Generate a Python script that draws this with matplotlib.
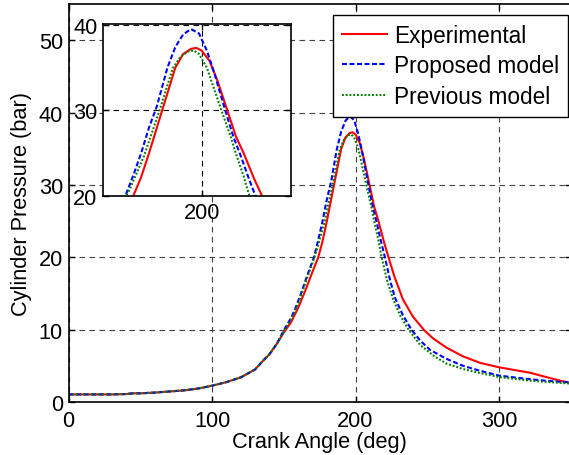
import numpy as np
import matplotlib
matplotlib.use('Agg')
import matplotlib.pyplot as plt

plt.rcParams['font.family'] = ['Liberation Sans', 'DejaVu Sans']
plt.rcParams['font.size'] = 15.7

# compression part, the three curves overlap here
angle_low = [0, 10, 20, 30, 40, 45, 50, 60, 70, 80, 90, 100, 110, 120, 130, 136, 140, 145]
p_low = [1.05, 1.05, 1.05, 1.05, 1.1, 1.2, 1.2, 1.3, 1.45, 1.6, 1.85, 2.25, 2.75, 3.4, 4.5, 5.8, 6.6, 8.0]

# combustion / expansion part
angle_exp = [150, 155, 160, 165, 170, 174, 177, 180, 185, 190, 193, 196, 198, 200, 203, 206, 210,
             213, 216, 220, 223, 227, 233, 240, 248, 254, 263.5, 275, 287, 300, 310, 321.5, 330,
             342.5, 350]
p_exp = [9.6, 11.0, 13.0, 15.4, 18.0, 20.0, 22.2, 25.0, 30.0, 35.0, 36.6, 37.2, 37.3, 37.0, 35.8,
         33.5, 29.8, 27.0, 25.0, 22.0, 20.0, 17.4, 14.2, 11.8, 9.9, 8.8, 7.5, 6.3, 5.4, 4.8, 4.45,
         4.05, 3.6, 2.95, 2.65]

angle_new = [150, 155, 158, 162, 166, 171, 174, 177, 180, 183, 187, 190, 193, 196, 199, 202, 205,
             209, 212, 215, 218, 220.5, 224, 227.5, 233, 239, 245, 252, 263.5, 275, 287, 300,
             321.5, 335, 350]
p_new = [9.9, 11.6, 12.9, 15.0, 17.3, 20.0, 22.4, 25.0, 28.0, 30.5, 35.0, 37.4, 38.9, 39.5, 39.0,
         37.0, 34.2, 30.0, 27.0, 24.6, 22.0, 20.0, 16.9, 14.4, 12.0, 10.0, 8.5, 7.2, 5.95, 5.0,
         4.3, 3.65, 3.15, 2.9, 2.7]

angle_old = [150, 155, 158, 162, 166, 170, 173, 178, 181, 184, 189, 192, 195, 197, 199, 202, 205,
             208, 211, 213, 216, 218, 222, 226, 231, 237, 245, 255, 263.5, 275, 287, 300, 321.5,
             335, 350]
p_old = [9.7, 11.4, 12.6, 14.7, 17.0, 19.2, 21.0, 24.6, 27.3, 30.0, 34.9, 36.3, 36.9, 37.0, 36.6,
         35.0, 32.3, 29.6, 27.0, 25.0, 22.3, 20.2, 16.8, 14.3, 12.0, 10.0, 7.9, 6.3, 5.3, 4.55,
         4.0, 3.45, 2.95, 2.75, 2.55]

x_exp = angle_low + angle_exp
y_exp = p_low + p_exp
x_new = angle_low + angle_new
y_new = p_low + p_new
x_old = angle_low + angle_old
y_old = p_low + p_old

dash_new = (0, (2.4, 1.2))
dot_old = (0, (0.9, 0.9))

W, H = 569, 456
fig = plt.figure(figsize=(W / 100, H / 100), dpi=100)
ax = fig.add_axes([68.5 / W, 53 / H, 502.3 / W, 397.7 / H])

ax.plot(x_exp, y_exp, color='r', lw=1.5, label='Experimental')
ax.plot(x_new, y_new, color='b', lw=1.5, ls=dash_new, label='Proposed model')
ax.plot(x_old, y_old, color='g', lw=1.5, ls=dot_old, label='Previous model')

ax.set_xlim(0, 350)
ax.set_ylim(0, 55)
ax.set_xticks([0, 100, 200, 300])
ax.set_yticks([0, 10, 20, 30, 40, 50])
ax.grid(True, color='0.25', lw=0.8, ls=(0, (5, 4)))
ax.tick_params(direction='in', length=4, width=1, top=True, right=True)
ax.tick_params(axis='x', pad=6)
ax.tick_params(axis='y', pad=4)
for s in ax.spines.values():
    s.set_linewidth(1.2)
ax.set_xlabel('Crank Angle (deg)', labelpad=0)
ax.set_ylabel('Cylinder Pressure (bar)', labelpad=5)

leg = ax.legend(loc='upper right', bbox_to_anchor=(567.7 / W, (H - 16) / H),
                bbox_transform=fig.transFigure, fancybox=False, framealpha=1,
                edgecolor='k', handlelength=2.0, handletextpad=0.3, borderpad=0.38,
                labelspacing=0.34, borderaxespad=0, fontsize=16.3)
leg.get_frame().set_linewidth(1.0)

# zoom on the peak
axin = fig.add_axes([103 / W, (H - 197) / H, 188 / W, 172 / H])
axin.plot(x_exp, y_exp, color='r', lw=1.5)
axin.plot(x_new, y_new, color='b', lw=1.5, ls=dash_new)
axin.plot(x_old, y_old, color='g', lw=1.5, ls=dot_old)
axin.set_xlim(162.5, 234)
axin.set_ylim(20, 40.1)
axin.set_xticks([200])
axin.set_yticks([20, 30, 40])
axin.grid(True, color='k', lw=0.8, ls=(0, (5, 4)))
axin.tick_params(direction='in', length=4, width=1, top=True, right=True, pad=4)
for s in axin.spines.values():
    s.set_linewidth(1.2)

fig.savefig('out.png', dpi=100)
